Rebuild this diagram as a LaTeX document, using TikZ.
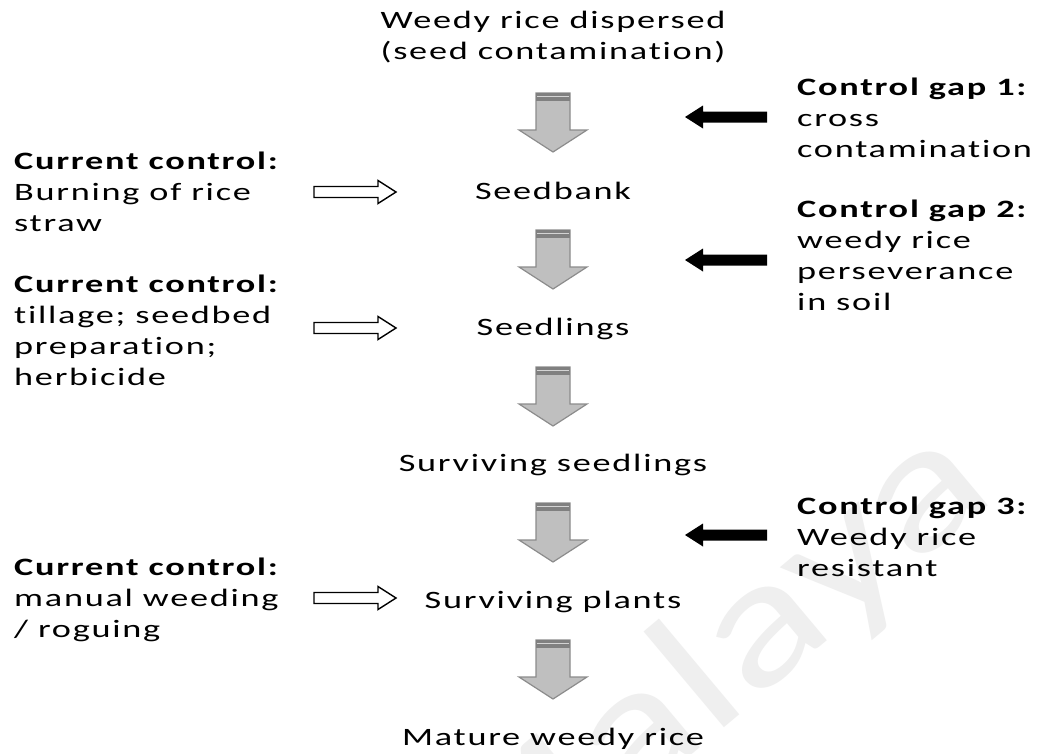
\documentclass[tikz,border=0pt]{standalone}
\usepackage{fontspec}
\setmainfont{Carlito}[FakeStretch=1.45,LetterSpace=7,Ligatures=NoCommon]
\newfontfamily\markfont{Carlito}[FakeStretch=1.3]
\usetikzlibrary{calc}

\definecolor{arrowfill}{HTML}{BFBFBF}
\definecolor{arrowline}{HTML}{8C8C8C}
\definecolor{bandgray}{HTML}{808080}
\definecolor{bandlight}{HTML}{D4D4D4}
\definecolor{markgray}{HTML}{EFEFEF}

\tikzset{
  txt/.style={inner sep=0pt, font=\fontsize{25}{31}\selectfont, text=black},
  stage/.style={txt, anchor=base},
  sidenote/.style={txt, anchor=north west, align=left},
  whitearrow/.style={draw=black, fill=white, line width=1.4pt, line join=miter},
  blackarrow/.style={fill=black},
  watermark/.style={font=\markfont\fontsize{180}{180}\selectfont, text=markgray, inner sep=0pt},
}

% strut that fixes the height of a first line
\newcommand\fl{\rule{0pt}{22pt}}

% grey striped block arrow pointing down: #1 top centre, #2 tip
\newcommand\downblock[2]{%
  \path[draw=arrowline, fill=arrowfill, line width=1.2pt, line join=miter]
    let \p1=(#1), \p2=(#2) in
    (\x1-17pt,\y1) -- (\x1+17pt,\y1) -- (\x1+17pt,\y2+22pt) -- (\x1+34pt,\y2+22pt)
    -- (\x2,\y2) -- (\x1-34pt,\y2+22pt) -- (\x1-17pt,\y2+22pt) -- cycle;
  \path[fill=bandgray] let \p1=(#1) in (\x1-17pt,\y1) rectangle (\x1+17pt,\y1-7.5pt);
  \path[draw=bandlight, line width=1.2pt] let \p1=(#1) in (\x1-16pt,\y1-3.8pt) -- (\x1+16pt,\y1-3.8pt);
}

% horizontal block arrow: #1 style, #2 tail, #3 tip
\newcommand\hblock[3]{%
  \path[#1] let \p1=(#2), \p2=(#3), \p3=($(#3)!18pt!(#2)$) in
    (\x1,\y1+5.5pt) -- (\x3,\y1+5.5pt) -- (\x3,\y1+11.5pt) -- (\x2,\y2)
    -- (\x3,\y1-11.5pt) -- (\x3,\y1-5.5pt) -- (\x1,\y1-5.5pt) -- cycle;
}

\begin{document}
\begin{tikzpicture}[x=1pt,y=-1pt]
\useasboundingbox (0,0) rectangle (1038,753);
\fill[white] (0,0) rectangle (1038,753);

% faint watermark, running off the lower edge
\node[watermark, rotate=40, anchor=base west] (wm) at (472,939) {Malaya};

% centre column: life cycle stages
\node[txt, anchor=north, align=center] (disp) at (553,6) {\fl Weedy rice dispersed\\(seed contamination)};
\node[stage] (bank) at (553,199) {Seedbank};
\node[stage] (sdl)  at (553,335) {Seedlings};
\node[stage] (ssd)  at (553,471) {Surviving seedlings};
\node[stage] (spl)  at (553,608) {Surviving plants};
\node[stage] (mat)  at (553,745) {Mature weedy rice};

% grey arrows between the stages
\coordinate (g1t) at (553,93);  \coordinate (g1b) at (553,152);
\coordinate (g2t) at (553,230); \coordinate (g2b) at (553,289);
\coordinate (g3t) at (553,367); \coordinate (g3b) at (553,426);
\coordinate (g4t) at (553,503); \coordinate (g4b) at (553,562);
\coordinate (g5t) at (553,640); \coordinate (g5b) at (553,699);
\downblock{g1t}{g1b}
\downblock{g2t}{g2b}
\downblock{g3t}{g3b}
\downblock{g4t}{g4b}
\downblock{g5t}{g5b}

% current controls (left)
\node[sidenote] (cc1) at (14,147) {\fl\textbf{Current control:}\\Burning of rice\\straw};
\node[sidenote] (cc2) at (14,270) {\fl\textbf{Current control:}\\tillage; seedbed\\preparation;\\herbicide};
\node[sidenote] (cc3) at (14,553) {\fl\textbf{Current control:}\\manual weeding\\/ roguing};

\coordinate (w1s) at (314,192); \coordinate (w1e) at (396,192);
\coordinate (w2s) at (314,328); \coordinate (w2e) at (396,328);
\coordinate (w3s) at (314,598); \coordinate (w3e) at (396,598);
\hblock{whitearrow}{w1s}{w1e}
\hblock{whitearrow}{w2s}{w2e}
\hblock{whitearrow}{w3s}{w3e}

% control gaps (right)
\node[sidenote] (gap1) at (797,73)  {\fl\textbf{Control gap 1:}\\cross\\contamination};
\node[sidenote] (gap2) at (797,195) {\fl\textbf{Control gap 2:}\\weedy rice\\perseverance\\in soil};
\node[sidenote] (gap3) at (797,492) {\fl\textbf{Control gap 3:}\\Weedy rice\\resistant};

\coordinate (b1s) at (767,117); \coordinate (b1e) at (685,117);
\coordinate (b2s) at (767,260); \coordinate (b2e) at (685,260);
\coordinate (b3s) at (767,535); \coordinate (b3e) at (685,535);
\hblock{blackarrow}{b1s}{b1e}
\hblock{blackarrow}{b2s}{b2e}
\hblock{blackarrow}{b3s}{b3e}
\end{tikzpicture}
\end{document}
